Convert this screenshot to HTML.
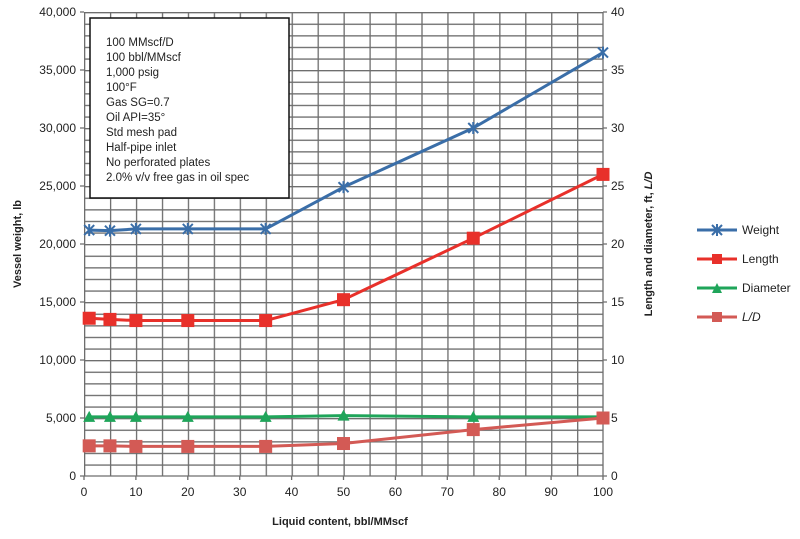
<!DOCTYPE html>
<html><head><style>body{margin:0;background:#fff}svg{display:block;font-family:"Liberation Sans",Arial,sans-serif}</style></head><body>
<svg width="800" height="539" viewBox="0 0 800 539">
<defs>
<pattern id="gp" x="84" y="12" width="25.95" height="11.6" patternUnits="userSpaceOnUse">
<path d="M0.65 0V11.6M0 0.65H25.95" stroke="#6d6d6d" stroke-width="1.3" fill="none"/>
</pattern>
<marker id="mx" markerUnits="userSpaceOnUse" markerWidth="14" markerHeight="14" refX="7" refY="7" overflow="visible"><g stroke="#3a6ea8" stroke-width="2"><line x1="2" y1="2" x2="12" y2="12"/><line x1="2" y1="12" x2="12" y2="2"/><line x1="7" y1="1" x2="7" y2="13"/></g></marker>
<marker id="mr" markerUnits="userSpaceOnUse" markerWidth="13" markerHeight="13" refX="6.5" refY="6.5" overflow="visible"><rect width="13" height="13" fill="#e8302a"/></marker>
<marker id="mt" markerUnits="userSpaceOnUse" markerWidth="12" markerHeight="12" refX="6" refY="7" overflow="visible"><polygon points="0,12 12,12 6,1" fill="#1fa55a"/></marker>
<marker id="ml" markerUnits="userSpaceOnUse" markerWidth="13" markerHeight="13" refX="6.5" refY="6.5" overflow="visible"><rect width="13" height="13" fill="#d35a55"/></marker>
</defs>
<rect x="84" y="12" width="519" height="464" fill="url(#gp)"/>
<g stroke="#6d6d6d" stroke-width="1.3">
<line x1="603" y1="12" x2="603" y2="476"/><line x1="80" y1="476" x2="607" y2="476"/>
<path d="M80 418H84M80 360H84M80 302H84M80 244H84M80 186H84M80 128H84M80 70H84M80 12H84M603 418H607M603 360H607M603 302H607M603 244H607M603 186H607M603 128H607M603 70H607M603 12H607"/>
<path d="M84 476V480M135.9 476V480M187.8 476V480M239.7 476V480M291.6 476V480M343.5 476V480M395.4 476V480M447.3 476V480M499.2 476V480M551.1 476V480M603 476V480"/>
</g>
<g fill="none" stroke-width="3" stroke-linejoin="round">
<polyline stroke="#3a6ea8" marker-start="url(#mx)" marker-mid="url(#mx)" marker-end="url(#mx)" points="89.19,230.08 109.95,230.66 135.9,228.92 187.8,228.92 265.65,228.92 343.5,187.16 473.25,128 603,52.6"/>
<polyline stroke="#e8302a" marker-start="url(#mr)" marker-mid="url(#mr)" marker-end="url(#mr)" points="89.19,318.24 109.95,319.4 135.9,320.56 187.8,320.56 265.65,320.56 343.5,299.68 473.25,238.2 603,174.4"/>
<polyline stroke="#1fa55a" marker-start="url(#mt)" marker-mid="url(#mt)" marker-end="url(#mt)" points="89.19,416.84 109.95,416.84 135.9,416.84 187.8,416.84 265.65,416.84 343.5,415.68 473.25,416.84 603,416.84"/>
<polyline stroke="#d35a55" marker-start="url(#ml)" marker-mid="url(#ml)" marker-end="url(#ml)" points="89.19,445.84 109.95,445.84 135.9,446.42 187.8,446.42 265.65,446.42 343.5,443.52 473.25,429.6 603,418"/>
</g>
<rect x="90" y="18" width="199" height="180" fill="#fff" stroke="#111" stroke-width="1.5"/>
<g font-size="11.5" fill="#222">
<text x="106" y="46">100 MMscf/D</text><text x="106" y="61">100 bbl/MMscf</text><text x="106" y="76">1,000 psig</text><text x="106" y="91">100°F</text><text x="106" y="106">Gas SG=0.7</text><text x="106" y="121">Oil API=35°</text><text x="106" y="136">Std mesh pad</text><text x="106" y="151">Half-pipe inlet</text><text x="106" y="166">No perforated plates</text><text x="106" y="181">2.0% v/v free gas in oil spec</text>
</g>
<g font-size="12" fill="#222" text-anchor="end">
<text x="76" y="480">0</text><text x="76" y="422">5,000</text><text x="76" y="364">10,000</text><text x="76" y="306">15,000</text><text x="76" y="248">20,000</text><text x="76" y="190">25,000</text><text x="76" y="132">30,000</text><text x="76" y="74">35,000</text><text x="76" y="16">40,000</text>
</g>
<g font-size="12" fill="#222">
<text x="611" y="480">0</text><text x="611" y="422">5</text><text x="611" y="364">10</text><text x="611" y="306">15</text><text x="611" y="248">20</text><text x="611" y="190">25</text><text x="611" y="132">30</text><text x="611" y="74">35</text><text x="611" y="16">40</text>
</g>
<g font-size="12" fill="#222" text-anchor="middle">
<text x="84" y="496">0</text><text x="135.9" y="496">10</text><text x="187.8" y="496">20</text><text x="239.7" y="496">30</text><text x="291.6" y="496">40</text><text x="343.5" y="496">50</text><text x="395.4" y="496">60</text><text x="447.3" y="496">70</text><text x="499.2" y="496">80</text><text x="551.1" y="496">90</text><text x="603" y="496">100</text>
</g>
<text x="340" y="525" font-size="11" font-weight="bold" text-anchor="middle" fill="#222">Liquid content, bbl/MMscf</text>
<text transform="translate(21,244) rotate(-90)" font-size="11" font-weight="bold" text-anchor="middle" fill="#222">Vessel weight, lb</text>
<text transform="translate(652,244) rotate(-90)" font-size="11" font-weight="bold" text-anchor="middle" fill="#222">Length and diameter, ft, <tspan font-style="italic">L/D</tspan></text>
<g font-size="12" fill="#222">
<line x1="697" y1="230" x2="737" y2="230" stroke="#3a6ea8" stroke-width="3"/><text x="742" y="234">Weight</text>
<g stroke="#3a6ea8" stroke-width="2"><line x1="712" y1="225" x2="722" y2="235"/><line x1="712" y1="235" x2="722" y2="225"/><line x1="717" y1="224" x2="717" y2="236"/></g>
<line x1="697" y1="259" x2="737" y2="259" stroke="#e8302a" stroke-width="3"/><rect x="712" y="254" width="10" height="10" fill="#e8302a"/><text x="742" y="263">Length</text>
<line x1="697" y1="288" x2="737" y2="288" stroke="#1fa55a" stroke-width="3"/><polygon points="712,293 722,293 717,283" fill="#1fa55a"/><text x="742" y="292">Diameter</text>
<line x1="697" y1="317" x2="737" y2="317" stroke="#d35a55" stroke-width="3"/><rect x="712" y="312" width="10" height="10" fill="#d35a55"/><text x="742" y="321" font-style="italic">L/D</text>
</g>
</svg>
</body></html>
